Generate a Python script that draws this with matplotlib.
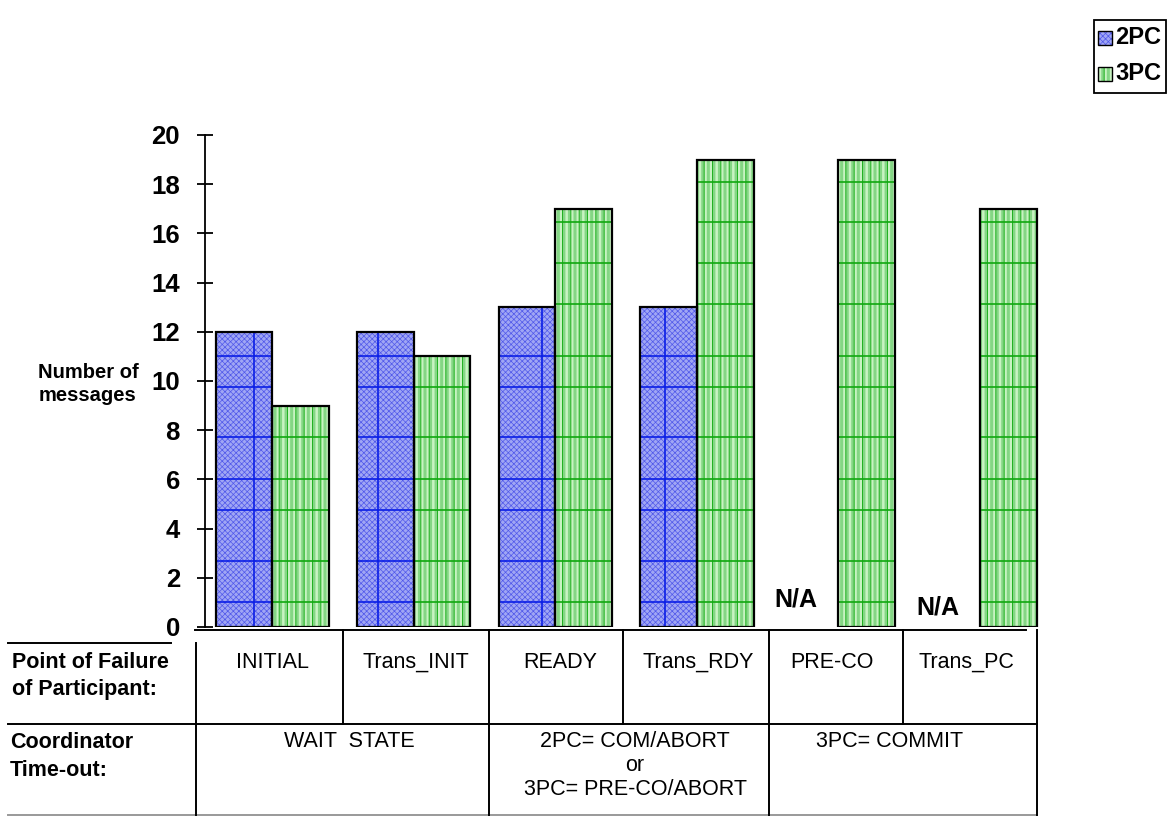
import numpy as np
import matplotlib
matplotlib.use('Agg')
import matplotlib.pyplot as plt
from matplotlib.lines import Line2D
from matplotlib.patches import Rectangle

plt.rcParams['font.family'] = ['Liberation Sans', 'DejaVu Sans']

# data
groups = ['INITIAL', 'Trans_INIT', 'READY', 'Trans_RDY', 'PRE-CO', 'Trans_PC']
msgs_2pc = [12, 12, 13, 13, np.nan, np.nan]
msgs_3pc = [9, 11, 17, 19, 19, 17]
series = ['2PC', '3PC']
timeout_labels = ['WAIT  STATE', '2PC= COM/ABORT\nor\n3PC= PRE-CO/ABORT', '3PC= COMMIT']
yticks = list(range(0, 21, 2))

# fill pattern rows (the grid printed inside the bars)
grid_rows = [1.02, 2.68, 4.76, 6.02, 7.72, 9.76, 11.02, 13.13, 14.8, 16.46, 18.09]
blue_vfrac = [0.68, 0.37, 0.77, 0.43, 0.5, 0.5]

W, H = 1169, 816
fig = plt.figure(figsize=(W / 100, H / 100), dpi=100)


def fx(px):
    return px / W


def fy(py):
    return 1 - py / H


ax = fig.add_axes([fx(205), fy(627), fx(1040) - fx(205), fy(135) - fy(627)])
x = np.arange(len(groups))
w = 0.4

blue_face = '#a0a6f4'
green_face = '#c8f3c2'


def layered(xpos, vals, face, hatches, grid_col, vfrac=None):
    base = ax.bar(xpos, vals, w, color=face, linewidth=0, zorder=2)
    for h, col, lw in hatches:
        with plt.rc_context({'hatch.linewidth': lw}):
            ax.bar(xpos, vals, w, facecolor='none', edgecolor=col, hatch=h,
                   linewidth=0, zorder=3)
    for i, r in enumerate(base.patches):
        top = r.get_height()
        if np.isnan(top):
            continue
        x0 = r.get_x()
        x1 = x0 + r.get_width()
        rows = [v for v in grid_rows if v < top]
        ax.hlines(rows, x0, x1, color=grid_col, lw=1.2, zorder=4)
        if vfrac is not None:
            ax.vlines(x0 + vfrac[i] * w, 0, top, color=grid_col, lw=1.2, zorder=4)
    ax.bar(xpos, vals, w, facecolor='none', edgecolor='black', linewidth=1.6, zorder=5)


blue_hatch = [('xxxxxx', '#5058ea', 0.5)]
green_hatch = [('|||', '#84d684', 2.2), ('||', '#20b020', 0.7)]

layered(x - w / 2, msgs_2pc, blue_face, blue_hatch, '#0a1ee6', blue_vfrac)
layered(x + w / 2, msgs_3pc, green_face, green_hatch, '#10a810')

# N/A where 2PC has no value
na_y = [1.1, 0.8]
k = 0
for i, v in enumerate(msgs_2pc):
    if np.isnan(v):
        ax.text(x[i] - w / 2 - 0.1, na_y[k], 'N/A', ha='center', va='center',
                fontsize=18, fontweight='bold')
        k += 1

ax.set_xlim(-0.475, 5.424)
ax.set_ylim(0, 20)
ax.set_xticks([])
ax.set_yticks(yticks)
for s in ['top', 'right', 'bottom']:
    ax.spines[s].set_visible(False)
ax.spines['left'].set_linewidth(1.3)
ax.tick_params(axis='y', direction='inout', length=12, width=1.3, pad=12, labelsize=18.5)
for lbl in ax.get_yticklabels():
    lbl.set_fontweight('bold')
ax.patch.set_visible(False)

fig.text(fx(88), fy(384), 'Number of\nmessages', ha='center', va='center',
         fontsize=14.5, fontweight='bold', linespacing=1.25)


# table under the chart
def hline(x0, x1, y, color='black', lw=1.4):
    fig.add_artist(Line2D([fx(x0), fx(x1)], [fy(y), fy(y)], color=color, lw=lw))


def vline(xp, y0, y1, lw=1.4):
    fig.add_artist(Line2D([fx(xp), fx(xp)], [fy(y0), fy(y1)], color='black', lw=lw))


hline(8, 171, 643)
hline(195, 1026, 630)
hline(8, 1037, 724)
hline(8, 1037, 815, color='#999999')
vline(196, 643, 815)
for xp in [343, 623, 903]:
    vline(xp, 630, 724)
for xp in [489, 769, 1037]:
    vline(xp, 630, 815)

fig.text(fx(12), fy(662), 'Point of Failure', ha='left', va='center', fontsize=15.5, fontweight='bold')
fig.text(fx(12), fy(690), 'of Participant:', ha='left', va='center', fontsize=15.5, fontweight='bold')
fig.text(fx(10), fy(743), 'Coordinator', ha='left', va='center', fontsize=15.5, fontweight='bold')
fig.text(fx(10), fy(771), 'Time-out:', ha='left', va='center', fontsize=15.5, fontweight='bold')

label_px = [272, 416, 560, 698, 832, 966]
for lab, xp in zip(groups, label_px):
    fig.text(fx(xp), fy(662), lab, ha='center', va='center', fontsize=15.5)

timeout_px = [349, 635, 890]
for lab, xp in zip(timeout_labels, timeout_px):
    fig.text(fx(xp), fy(731), lab, ha='center', va='top', fontsize=15.5,
             linespacing=1.2, multialignment='center')

# legend box
fig.add_artist(Rectangle((fx(1094), fy(93)), fx(1166) - fx(1094), fy(20) - fy(93),
                         transform=fig.transFigure, facecolor='white', edgecolor='black', lw=1.3))
leg_style = [(blue_face, blue_hatch), (green_face, green_hatch)]
for name, (face, hatches), yc in zip(series, leg_style, [38, 74]):
    rect = ((fx(1098), fy(yc + 7)), fx(14), fx(14) * W / H)
    fig.add_artist(Rectangle(*rect, transform=fig.transFigure, facecolor=face, lw=0))
    for h, col, lw in hatches:
        with plt.rc_context({'hatch.linewidth': lw}):
            fig.add_artist(Rectangle(*rect, transform=fig.transFigure, facecolor='none',
                                     edgecolor=col, hatch=h, lw=0))
    fig.add_artist(Rectangle(*rect, transform=fig.transFigure, facecolor='none',
                             edgecolor='black', lw=1.0))
    fig.text(fx(1115), fy(yc), name, ha='left', va='center', fontsize=17, fontweight='bold')

fig.savefig('out.png', dpi=100)
